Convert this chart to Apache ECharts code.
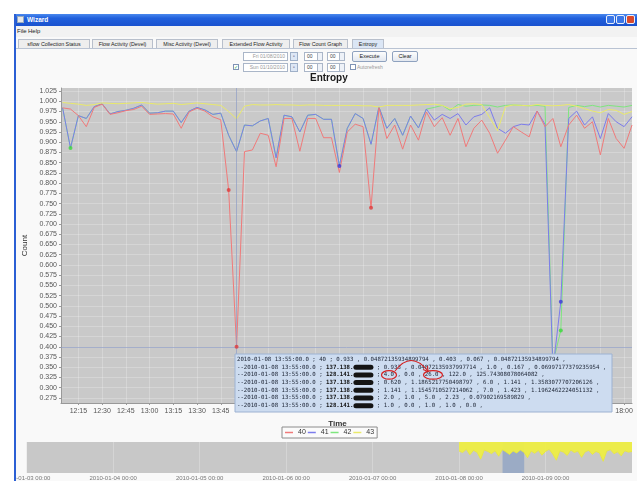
<!DOCTYPE html>
<html><head><meta charset="utf-8">
<script src="https://cdn.jsdelivr.net/npm/echarts@6.0.0/dist/echarts.min.js"></script>
<style>
html,body{margin:0;padding:0;width:637px;height:481px;overflow:hidden;background:#fff;font-family:"Liberation Sans",Arial,sans-serif;}
#win{position:absolute;left:14px;top:14px;width:623px;height:467px;background:#f9f9f9;}
.tb{position:absolute;left:0;top:0;width:623px;height:12px;background:linear-gradient(#4a88ee,#2160dc 35%,#1a52cf);}
.tb .ic{position:absolute;left:3px;top:2px;width:7px;height:7px;background:#e8e8e8;border:1px solid #9ab;box-sizing:border-box;}
.tb .tt{position:absolute;left:13px;top:2px;font-size:6.5px;font-weight:bold;color:#fff;}
.wb{position:absolute;top:1px;width:9px;height:9px;box-sizing:border-box;border:1px solid #e9effa;border-radius:2px;background:#3a76e6;}
.menu{position:absolute;left:0;top:12px;width:623px;height:11px;background:#f2f2f2;font-size:6px;color:#222;}
.menu span{position:absolute;top:2px;}
.tabline{position:absolute;left:0;top:34px;width:623px;height:1px;background:#b9c3d3;}
.tab{position:absolute;top:25px;height:9px;box-sizing:border-box;border:1px solid #b8bfcb;border-bottom:none;background:#eeeeee;font-size:5.3px;line-height:8px;text-align:center;color:#222;white-space:nowrap;overflow:hidden;}
.tab.sel{background:#dbe6f5;}
.fld{position:absolute;height:9px;box-sizing:border-box;border:1px solid #aab6c8;background:#fff;font-size:5px;line-height:7px;color:#999;text-align:right;padding-right:2px;white-space:nowrap;}
.sb{position:absolute;width:8px;height:9px;box-sizing:border-box;border:1px solid #9fb0c8;background:#dde7f5;font-size:5px;line-height:7px;text-align:center;color:#335;}
.sp{position:absolute;height:9px;box-sizing:border-box;border:1px solid #aab6c8;background:#fff;font-size:5px;line-height:7px;color:#444;padding-left:2px;}
.sp i{position:absolute;right:0;top:0;width:4px;height:7px;border-left:1px solid #aab6c8;background:#eef2f8;}
.btn{position:absolute;height:11px;box-sizing:border-box;border:1px solid #8fa2bf;border-radius:2px;background:linear-gradient(#fdfdfd,#e3e8f0);font-size:5.5px;line-height:9px;text-align:center;color:#222;}
.cb{position:absolute;width:6px;height:6px;box-sizing:border-box;border:1px solid #7f93b5;background:#fff;font-size:5px;line-height:4px;text-align:center;color:#2a5;}
#chart{position:absolute;left:0;top:0;width:637px;height:481px;}
#lc{position:absolute;left:0;top:0;width:14px;height:481px;background:#fff;}
#lb{position:absolute;left:14px;top:14px;width:2px;height:467px;background:#2b5fd4;}
</style>
</head><body>
<div id="win">
  <div class="tb"><div class="ic"></div><div class="tt">Wizard</div>
    <div class="wb" style="left:592px"></div>
    <div class="wb" style="left:602px"></div>
    <div class="wb" style="left:612px;background:#d8492c"></div>
  </div>
  <div class="menu"><span style="left:3px">File</span><span style="left:14px">Help</span></div>
  <div class="tab" style="left:4px;width:72px">sflow Collection Status</div>
  <div class="tab" style="left:78px;width:61px">Flow Activity (Devel)</div>
  <div class="tab" style="left:142px;width:62px">Misc Activity (Devel)</div>
  <div class="tab" style="left:208px;width:68px">Extended Flow Activity</div>
  <div class="tab" style="left:279px;width:55px">Flow Count Graph</div>
  <div class="tab sel" style="left:338px;width:32px">Entropy</div>
  <div class="tabline"></div>

  <div class="fld" style="left:229px;top:38px;width:45px">Fri 01/08/2010</div>
  <div class="sb" style="left:276px;top:38px">▫</div>
  <div class="sp" style="left:290px;top:38px;width:19px">00<i></i></div>
  <div class="sp" style="left:313px;top:38px;width:18px">00<i></i></div>
  <div class="btn" style="left:338px;top:37px;width:35px">Execute</div>
  <div class="btn" style="left:378px;top:37px;width:26px">Clear</div>

  <div class="cb" style="left:219px;top:50px">✓</div>
  <div class="fld" style="left:229px;top:49px;width:45px">Sun 01/10/2010</div>
  <div class="sb" style="left:276px;top:49px">▫</div>
  <div class="sp" style="left:290px;top:49px;width:19px">00<i></i></div>
  <div class="sp" style="left:313px;top:49px;width:18px">00<i></i></div>
  <div class="cb" style="left:336px;top:50px"></div>
  <div style="position:absolute;left:343px;top:50px;font-size:5px;color:#999">Autorefresh</div>
</div>
<div id="chart"></div>
<div id="lc"></div>
<div id="lb"></div>
<script>
// ---- data ----
const times = ['12:05','12:10','12:15','12:20','12:25','12:30','12:35','12:40','12:45','12:50','12:55',
'13:00','13:05','13:10','13:15','13:20','13:25','13:30','13:35','13:40','13:45','13:50','13:55',
'14:00','14:05','14:10','14:15','14:20','14:25','14:30','14:35','14:40','14:45','14:50','14:55',
'15:00','15:05','15:10','15:15','15:20','15:25','15:30','15:35','15:40','15:45','15:50','15:55',
'16:00','16:05','16:10','16:15','16:20','16:25','16:30','16:35','16:40','16:45','16:50','16:55',
'17:00','17:05','17:10','17:15','17:20','17:25','17:30','17:35','17:40','17:45','17:50','17:55',
'18:00','18:05'];
const s40 = [.984,.981,.965,.938,.985,.993,.968,.972,.977,.980,.988,
.968,.969,.970,.969,.934,.974,.983,.976,.962,.955,.783,.400,
.877,.881,.922,.917,.840,.958,.958,.878,.958,.958,.911,.911,
.826,.925,.944,.938,.740,.984,.909,.942,.883,.942,.905,.974,
.938,.960,.917,.958,.889,.934,.954,.922,.873,.905,.938,.925,
.913,.976,.938,.958,.889,.942,.966,.934,.950,.869,.958,.909,
.885,.942];
const s41 = [.984,.886,.965,.958,.987,.994,.969,.975,.978,.983,.991,
.971,.972,.976,.976,.948,.976,.985,.979,.968,.971,.917,.877,
.942,.940,.952,.958,.862,.966,.962,.925,.966,.968,.956,.956,
.842,.934,.970,.958,.895,.986,.934,.958,.917,.964,.935,.981,
.954,.968,.958,.970,.942,.962,.968,.984,.934,.922,.938,.944,
.942,.976,.944,.345,.510,.958,.976,.942,.962,.909,.970,.950,
.938,.962];
const s42 = [.984,.886,.965,.958,.987,.994,.969,.975,.978,.983,.991,
.971,.972,.976,.976,.948,.976,.985,.979,.968,.971,.917,.877,
.942,.940,.952,.958,.862,.966,.962,.925,.966,.968,.956,.956,
.842,.934,.970,.958,.895,.986,.934,.958,.917,.964,.935,.981,
.985,.990,.978,.992,.988,.990,.991,.990,.986,.990,.991,.990,
.989,.990,.988,.360,.440,.985,.990,.987,.990,.986,.990,.988,
.986,.990];
const s43 = [.997,.995,.993,.990,.992,.996,.995,.994,.995,.996,.997,
.995,.993,.994,.995,.992,.994,.996,.994,.992,.990,.975,.957,
.988,.992,.991,.991,.992,.991,.991,.990,.991,.991,.990,.990,
.990,.990,.990,.989,.989,.986,.990,.990,.990,.990,.991,.992,
.993,.990,.982,.985,.993,.994,.992,.960,.928,.987,.991,.990,
.989,.992,.990,.989,.990,.992,.988,.982,.976,.972,.980,.978,
.968,.975];
const seriesNames = ['40','41','42','43'];
const markedPoints = [['42','12:10'],['40','13:50'],['40','13:55'],['41','15:00'],['40','15:20'],['41','17:20'],['42','17:20']];
const crossTime = '13:55';
const crossValue = 0.400;
const xTicks = ['12:15','12:30','12:45','13:00','13:15','13:30','13:45','14:00','14:15','14:30','14:45','15:00',
'15:15','15:30','15:45','16:00','16:15','16:30','16:45','17:00','17:15','17:30','17:45','18:00'];
const xTickLabels = ['12:15','12:30','12:45','13:00','13:15','13:30','13:45','18:00'];
const yTickLabels = ['0.275','0.300','0.325','0.350','0.375','0.400','0.425','0.450','0.475','0.500','0.525','0.550',
'0.575','0.600','0.625','0.650','0.675','0.700','0.725','0.750','0.775','0.800','0.825','0.850','0.875','0.900',
'0.925','0.950','0.975','1.000','1.025'];
const xRange = ['12:04','18:05'];
const yRange = [0.2625, 1.0325];
// overview (hours since 2010-01-03 00:00)
const ovTickHours = [0,24,48,72,96,120,144];
const ovTickLabels = ['2010-01-03 00:00','2010-01-04 00:00','2010-01-05 00:00','2010-01-06 00:00','2010-01-07 00:00','2010-01-08 00:00','2010-01-09 00:00'];
const ovHours = [120,121,122,123,124,125,126,127,128,129,130,131,132,133,134,135,136,137,138,139,140,141,142,143,144,
145,146,147,148,149,150,151,152,153,154,155,156,157,158,159,160,161,162,163,164,165,166,167,168];
const ovYellow = [0.80,0.76,0.85,0.70,0.82,0.77,0.58,0.83,0.79,0.73,0.81,0.66,0.84,0.78,0.71,0.80,0.75,0.83,0.77,0.62,
0.80,0.74,0.82,0.69,0.79,0.85,0.72,0.55,0.81,0.77,0.68,0.83,0.76,0.80,0.63,0.78,0.82,0.71,0.79,0.75,0.52,0.80,0.84,
0.73,0.78,0.67,0.81,0.77,0.79];
const ovWindow = [132.07, 138.08];
// info box text
const infoRows = [
 {pre:'2010-01-08 13:55:00.0 ; 40 ; 0.933 , 0.04872135934899794 , 0.403 , 0.067 , 0.04872135934899794 ,', ip:'', rest:''},
 {pre:'--2010-01-08 13:55:00.0 ; ', ip:'137.138.', rest:' ; 0.933 , 0.04872135937997714 , 1.0 , 0.167 , 0.06997177379235954 ,'},
 {pre:'--2010-01-08 13:55:00.0 ; ', ip:'128.141.', rest:' ; 4.0 , 0.0 , 26.0 , 122.0 , 125.74308078064082 ,'},
 {pre:'--2010-01-08 13:55:00.0 ; ', ip:'137.138.', rest:' ; 0.620 , 1.1865217750498797 , 6.0 , 1.141 , 1.3583077707206126 ,'},
 {pre:'--2010-01-08 13:55:00.0 ; ', ip:'137.138.', rest:' ; 1.141 , 1.1545710527214062 , 7.0 , 1.423 , 1.1962462224051132 ,'},
 {pre:'--2010-01-08 13:55:00.0 ; ', ip:'137.138.', rest:' ; 2.0 , 1.0 , 5.0 , 2.23 , 0.07902169589829 ,'},
 {pre:'--2010-01-08 13:55:00.0 ; ', ip:'128.141.', rest:' ; 1.0 , 0.0 , 1.0 , 1.0 , 0.0 ,'}
];

// ---- helpers ----
const toMin = s => { const p = s.split(':'); return (+p[0]) * 60 + (+p[1]); };
const fmtMin = m => { const h = Math.floor(m / 60), mm = Math.round(m % 60); return h + ':' + (mm < 10 ? '0' : '') + mm; };
const tMin = times.map(toMin);
const valuesByName = {'40': s40, '41': s41, '42': s42, '43': s43};
const colors = {'40': '#f07a7a', '41': '#7c7cec', '42': '#7ee67e', '43': '#eaea6a'};
const dotColors = {'40': '#e03a3a', '41': '#3a3ad8', '42': '#3ad83a'};
const pairs = name => tMin.map((t, i) => [t, valuesByName[name][i]]);

const FONT = '"Liberation Sans", Arial, sans-serif';
const MONO = '"DejaVu Sans Mono", monospace';

function lineSeries(name) {
  const s = {
    name, type: 'line', data: pairs(name), symbol: 'none', silent: true,
    lineStyle: {color: colors[name], width: 1}, itemStyle: {color: colors[name]},
    xAxisIndex: 0, yAxisIndex: 0, animation: false
  };
  if (name === '40') {
    s.markLine = {
      silent: true, symbol: 'none', label: {show: false}, animation: false,
      lineStyle: {color: '#8f9dc6', width: 0.7, type: 'solid'},
      data: [{xAxis: toMin(crossTime)}, {yAxis: crossValue}]
    };
  }
  return s;
}

const markerSeries = {
  type: 'scatter', silent: true, symbolSize: 4, z: 5,
  data: markedPoints.map(([n, t]) => {
    const i = times.indexOf(t);
    return {value: [tMin[i], valuesByName[n][i]], itemStyle: {color: dotColors[n]}};
  })
};

const ovSeries = {
  type: 'line', xAxisIndex: 1, yAxisIndex: 1, silent: true, symbol: 'none',
  data: ovHours.map((h, i) => [h, ovYellow[i]]),
  lineStyle: {color: '#e8e83a', width: 0.8},
  areaStyle: {origin: 'end', color: '#eeee44', opacity: 0.95},
  markArea: {silent: true, itemStyle: {color: 'rgba(140,162,196,0.75)'}, data: [[{xAxis: ovWindow[0]}, {xAxis: ovWindow[1]}]]}
};

// info box graphic
const lineY0 = 359.5, lineDY = 7.7, textX = 237;
const rich = {
  n: {fontFamily: MONO, fontSize: 5.7, fill: '#1c2434'},
  b: {fontFamily: MONO, fontSize: 5.7, fontWeight: 'bold', fill: '#111'},
  r: {fontFamily: MONO, fontSize: 5.7, backgroundColor: '#141414', borderRadius: 2.5, width: 20, height: 5}
};
const infoGraphics = [
  {type: 'rect', z: 100, shape: {x: 235, y: 354, width: 377, height: 58},
   style: {fill: '#cddcf0', stroke: '#9db2d2', lineWidth: 1}}
].concat(infoRows.map((r, k) => ({
  type: 'text', z: 101, x: textX, y: lineY0 + k * lineDY,
  style: {
    text: r.ip ? `{n|${r.pre}}{b|${r.ip}}{r|  }{n|${r.rest}}` : `{n|${r.pre}}`,
    rich, verticalAlign: 'middle', fontFamily: MONO, fontSize: 5.7
  }
}))).concat([
  {type: 'ellipse', z: 102, shape: {cx: 389, cy: lineY0 + 2 * lineDY, rx: 7.5, ry: 4.3},
   style: {fill: 'none', stroke: '#d42020', lineWidth: 1.2}},
  {type: 'ellipse', z: 102, shape: {cx: 433, cy: lineY0 + 2 * lineDY, rx: 9.5, ry: 4.3},
   style: {fill: 'none', stroke: '#d42020', lineWidth: 1.2}},
  {type: 'bezierCurve', z: 102, shape: {x1: 395, y1: 371, x2: 428, y2: 371, cpx1: 411, cpy1: 350},
   style: {fill: 'none', stroke: '#d42020', lineWidth: 1.1}},
  {type: 'polyline', z: 102, shape: {points: [[423, 369.5], [428, 371.5], [427.5, 366]]},
   style: {fill: 'none', stroke: '#d42020', lineWidth: 1.1}}
]);

const chart = echarts.init(document.getElementById('chart'), null, {renderer: 'canvas'});
chart.setOption({
  animation: false,
  backgroundColor: 'transparent',
  title: {text: 'Entropy', left: 310, top: 73, padding: 0,
    textStyle: {fontSize: 10, fontWeight: 'bold', color: '#1a1a1a', fontFamily: FONT}},
  legend: {
    data: seriesNames, left: 282, top: 427, orient: 'horizontal',
    padding: [2, 3], itemGap: 2, itemTextGap: 2, itemWidth: 8, itemHeight: 1.5, icon: 'rect',
    borderColor: '#8c8c8c', borderWidth: 1, backgroundColor: '#fbfbfb',
    textStyle: {fontSize: 7, color: '#333', fontFamily: FONT}
  },
  grid: [
    {left: 61, right: 5, top: 88, bottom: 78, show: true, backgroundColor: '#c9c9c9', borderWidth: 0},
    {left: 21, right: 5, top: 442, bottom: 8, show: true, backgroundColor: '#c8c8c8', borderWidth: 0}
  ],
  xAxis: [
    {type: 'value', gridIndex: 0, min: toMin(xRange[0]), max: toMin(xRange[1]),
     name: 'Time', nameLocation: 'middle', nameGap: 17,
     nameTextStyle: {fontSize: 8, fontWeight: 'bold', color: '#333', fontFamily: FONT, padding: [0, 18, 0, 0]},
     axisLine: {show: true, lineStyle: {color: '#999', width: 1}},
     axisTick: {show: true, length: 2, lineStyle: {color: '#999'}, customValues: xTicks.map(toMin)},
     axisLabel: {fontSize: 7, color: '#555', fontFamily: FONT, margin: 5, customValues: xTickLabels.map(toMin),
       formatter: v => fmtMin(v)},
     splitLine: {show: true, lineStyle: {color: 'rgba(255,255,255,0.38)', width: 0.6}}},
    {type: 'value', gridIndex: 1, min: 0, max: 168,
     axisLine: {show: false}, axisTick: {show: false, customValues: ovTickHours},
     axisLabel: {fontSize: 6, color: '#777', fontFamily: FONT, margin: 2, customValues: ovTickHours,
       formatter: v => ovTickLabels[ovTickHours.indexOf(v)] || ''},
     splitLine: {show: true, lineStyle: {color: 'rgba(255,255,255,0.4)', width: 0.6}}}
  ],
  yAxis: [
    {type: 'value', gridIndex: 0, min: yRange[0], max: yRange[1],
     name: 'Count', nameLocation: 'middle', nameGap: 31,
     nameTextStyle: {fontSize: 8, color: '#333', fontFamily: FONT},
     axisLine: {show: true, lineStyle: {color: '#999', width: 1}},
     axisTick: {show: true, length: 2, lineStyle: {color: '#999'}, customValues: yTickLabels.map(Number)},
     axisLabel: {fontSize: 7, color: '#555', fontFamily: FONT, margin: 4, customValues: yTickLabels.map(Number),
       formatter: v => Number(v).toFixed(3)},
     splitLine: {show: true, lineStyle: {color: 'rgba(255,255,255,0.38)', width: 0.6}}},
    {type: 'value', gridIndex: 1, min: 0.2, max: 1.05, show: true,
     axisLine: {show: false}, axisTick: {show: false}, axisLabel: {show: false}, splitLine: {show: false}}
  ],
  series: [lineSeries('42'), lineSeries('41'), lineSeries('40'), lineSeries('43'), markerSeries, ovSeries],
  graphic: {elements: infoGraphics}
});
</script>
</body></html>
